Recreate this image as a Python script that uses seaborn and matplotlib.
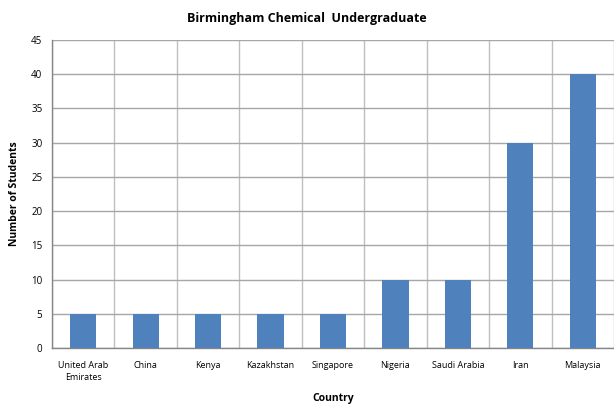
import numpy as np
import pandas as pd
import matplotlib
matplotlib.use('Agg')
import matplotlib.pyplot as plt
import seaborn as sns
from matplotlib.ticker import FixedLocator, MultipleLocator

# dados
paises = ['United Arab\nEmirates', 'China', 'Kenya', 'Kazakhstan', 'Singapore',
          'Nigeria', 'Saudi Arabia', 'Iran', 'Malaysia']
alunos = [5, 5, 5, 5, 5, 10, 10, 30, 40]

sns.set_style('white')
plt.rcParams['font.family'] = ['Open Sans', 'DejaVu Sans']
plt.rcParams['text.color'] = 'black'
plt.rcParams['axes.labelcolor'] = 'black'
plt.rcParams['xtick.color'] = 'black'
plt.rcParams['ytick.color'] = 'black'

df = pd.DataFrame({'Country': paises, 'Students': alunos})

fig = plt.figure(figsize=(6.14, 4.04), dpi=100)
ax = fig.add_axes([0.0847, 0.1386, 0.9153, 0.7624])

sns.barplot(data=df, x='Country', y='Students', color='#4F81BD',
            width=0.42, saturation=1, edgecolor='none', linewidth=0,
            ax=ax, zorder=3)

n = len(paises)
ax.set_xlim(-0.5, n - 0.5)
ax.set_ylim(0, 45)
ax.yaxis.set_major_locator(MultipleLocator(5))
ax.xaxis.set_minor_locator(FixedLocator(np.arange(-0.5, n, 1.0)))

ax.grid(axis='y', which='major', color='#a6a6a6', linewidth=1, zorder=0)
ax.grid(axis='x', which='minor', color='#bfbfbf', linewidth=1, zorder=0)
ax.grid(axis='x', which='major', visible=False)

for s in ['top', 'right']:
    ax.spines[s].set_visible(False)
for s in ['left', 'bottom']:
    ax.spines[s].set_color('#868686')
    ax.spines[s].set_linewidth(1)

ax.tick_params(axis='x', which='major', length=0, labelsize=6.5, pad=9)
ax.tick_params(axis='x', which='minor', length=5, color='#868686', direction='out')
ax.tick_params(axis='y', which='major', length=5, color='#868686', direction='out',
               labelsize=7, pad=2, labelcolor='black')
for lbl in ax.get_xticklabels():
    lbl.set_linespacing(1.45)
    lbl.set_color('black')

ax.set_xlabel('Country', fontsize=7.5, fontweight='bold', labelpad=8)
ax.set_ylabel('Number of Students', fontsize=7.5, fontweight='bold', labelpad=8)
fig.suptitle('Birmingham Chemical  Undergraduate', fontsize=9, fontweight='bold',
             y=0.97)

plt.savefig('out.png', dpi=100)
